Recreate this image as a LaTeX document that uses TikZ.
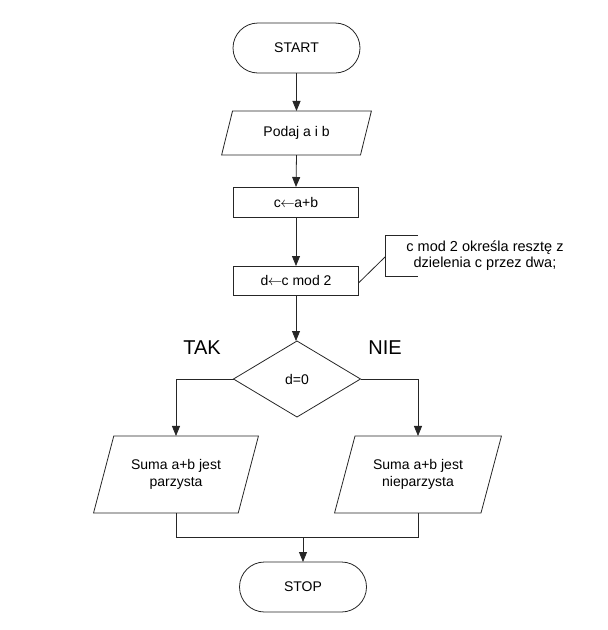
\documentclass[tikz,border=0pt]{standalone}
\usepackage{fontspec}
\setmainfont{Liberation Sans}
\usetikzlibrary{shapes.geometric,arrows.meta}
\newcommand{\larr}{\kern-0.5pt$\leftarrow$\kern-0.5pt}
\begin{document}
\begin{tikzpicture}[x=1pt,y=-1pt,
  every node/.style={font=\fontsize{14}{16.5}\selectfont, outer sep=0pt, inner sep=0pt},
  line/.style={draw=black!85, line width=0.8pt},
  term/.style={line, rectangle, rounded corners=25pt, minimum width=127pt, minimum height=50pt},
  proc/.style={line, rectangle, minimum width=125pt, minimum height=30pt},
  io/.style={line, trapezium, trapezium stretches=true, align=center},
  dec/.style={line, diamond, minimum width=127pt, minimum height=76pt},
  big/.style={font=\fontsize{20}{24}\selectfont},
  arr/.style={draw=black!85, line width=0.8pt, -{Triangle[length=10pt,width=8pt]}}
]
\useasboundingbox (0,0) rectangle (608,630);

\node[term] (start) at (296.5,48) {START};
\node[io, trapezium left angle=66.6, trapezium right angle=113.4,
      minimum width=150pt, minimum height=44pt] (podaj) at (296.5,133) {Podaj a i b};
\node[proc] (cab) at (296,202) {c\larr a+b};
\node[proc, minimum height=29pt] (dmod) at (296,280.5) {d\larr c mod 2};
\node[dec] (cond) at (297,379) {d=0};
\node[io, trapezium left angle=63.7, trapezium right angle=116.3,
      minimum width=165pt, minimum height=77pt] (left) at (176,474.5) {Suma a+b jest\\parzysta};
\node[io, trapezium left angle=63.7, trapezium right angle=116.3,
      minimum width=167pt, minimum height=77pt] (right) at (418,474.5) {Suma a+b jest\\nieparzysta};
\node[term] (stop) at (303,587) {STOP};

\node[big] (tak) at (202,348) {TAK};
\node[big] (nie) at (385,348) {NIE};

\node[align=center, font=\fontsize{14.5}{15.5}\selectfont] (cmt) at (485,255.5) {c mod 2 określa resztę z\\dzielenia c przez dwa;};
\coordinate (brtop) at (418,235);
\coordinate (brbot) at (418,276);
\coordinate (brmid) at (385,257);
\draw[line] (brtop) -- (brtop -| brmid) -- (brbot -| brmid) -- (brbot);
\draw[line] ([yshift=-2.5pt]dmod.east) -- (brmid);

\draw[arr] (start.south) -- (start.south |- podaj.north);
\draw[arr] (podaj.center |- podaj.south) -- (cab.north);
\draw[arr] (cab.south) -- (dmod.north);
\draw[arr] (dmod.south) -- (dmod.south |- cond.north);
\draw[arr] (cond.west) -| (left.center |- left.north);
\draw[arr] (cond.east) -| (right.center |- right.north);

\coordinate (merge) at (303,537);
\draw[line] (left.center |- left.south) -- (left.center |- merge) -- (right.center |- merge) -- (right.center |- right.south);
\draw[arr] (merge) -- (stop.north);
\end{tikzpicture}
\end{document}
